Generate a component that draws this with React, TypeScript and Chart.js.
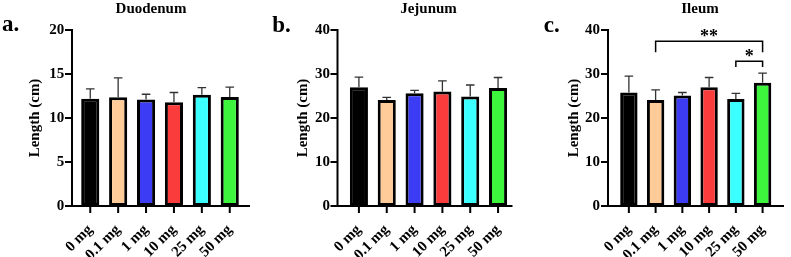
import React, { useEffect, useRef } from "react";
import { Chart, registerables } from "chart.js";

Chart.register(...registerables);

// ---------- data ----------
const doses = ["0 mg", "0.1 mg", "1 mg", "10 mg", "25 mg", "50 mg"];
const barColors = ["#000000", "#FFCC99", "#3C3CF5", "#FA3C3C", "#3CFFFF", "#3CF53C"];

const duodenumMean = [12.2, 12.35, 12.1, 11.8, 12.65, 12.4];
const duodenumSD = [1.1, 2.2, 0.6, 1.1, 0.8, 1.1];

const jejunumMean = [27.0, 24.1, 25.6, 26.0, 24.9, 26.8];
const jejunumSD = [2.3, 0.6, 0.7, 2.45, 2.6, 2.4];

const ileumMean = [25.8, 24.1, 25.1, 27.0, 24.3, 28.0];
const ileumSD = [3.7, 2.3, 0.7, 2.2, 1.3, 2.2];

const duodenumAxis = { max: 20, step: 5 };
const jejunumAxis = { max: 40, step: 10 };
const ileumAxis = { max: 40, step: 10 };

// significance brackets: from index, to index, line value, drop value, label value
const ileumSig = [
  { from: 1, to: 5, line: 37.45, drop: 34.95, star: 39.35, text: "**" },
  { from: 4, to: 5, line: 32.9, drop: 31.6, star: 34.8, text: "*" },
];

const FONT = "'Liberation Serif', 'Times New Roman', serif";
Chart.defaults.font.family = FONT;

type PanelProps = {
  left: number;
  width: number;
  title: string;
  letter: string;
  means: number[];
  sds: number[];
  axis: { max: number; step: number };
  sig: typeof ileumSig;
  L: {
    catLeft: number;
    catRight: number;
    axisX: number;
    axisEnd: number;
    yTitlePad: number;
    tickPad: number;
    titleX: number;
    letterX: number;
    letterY: number;
  };
};

const TOP = 30;
const BOTTOM = 206;
const H = 257;

function Panel(p: PanelProps) {
  const ref = useRef<HTMLCanvasElement | null>(null);
  useEffect(() => {
    if (!ref.current) return;
    const L = p.L;
    const deco = {
      id: "deco",
      afterDatasetsDraw(chart: any) {
        const ctx = chart.ctx as CanvasRenderingContext2D;
        const ys = chart.scales.y;
        const meta = chart.getDatasetMeta(0);
        const ca = chart.chartArea;
        ctx.save();
        // error bars
        ctx.strokeStyle = "#333333";
        ctx.lineWidth = 1.3;
        p.means.forEach((m, i) => {
          const x = meta.data[i].x;
          const y0 = ys.getPixelForValue(m);
          const y1 = ys.getPixelForValue(m + p.sds[i]);
          ctx.beginPath();
          ctx.moveTo(x, y0);
          ctx.lineTo(x, y1);
          ctx.moveTo(x - 4.3, y1);
          ctx.lineTo(x + 4.3, y1);
          ctx.stroke();
        });
        // axes
        ctx.strokeStyle = "#000";
        ctx.lineWidth = 2;
        ctx.beginPath();
        ctx.moveTo(L.axisX, ca.top - 1);
        ctx.lineTo(L.axisX, ca.bottom + 1);
        ctx.moveTo(L.axisX - 1, ca.bottom);
        ctx.lineTo(L.axisEnd, ca.bottom);
        ys.ticks.forEach((t: any) => {
          const y = ys.getPixelForValue(t.value);
          ctx.moveTo(L.axisX - 7, y);
          ctx.lineTo(L.axisX, y);
        });
        meta.data.forEach((b: any) => {
          ctx.moveTo(b.x, ca.bottom);
          ctx.lineTo(b.x, ca.bottom + 7);
        });
        ctx.stroke();
        // significance
        ctx.lineWidth = 1.5;
        ctx.fillStyle = "#000";
        p.sig.forEach((s) => {
          const xa = meta.data[s.from].x;
          const xb = meta.data[s.to].x;
          const yl = ys.getPixelForValue(s.line);
          const yd = ys.getPixelForValue(s.drop);
          ctx.beginPath();
          ctx.moveTo(xa, yd);
          ctx.lineTo(xa, yl);
          ctx.lineTo(xb, yl);
          ctx.lineTo(xb, yd);
          ctx.stroke();
          ctx.font = `bold 18px ${FONT}`;
          ctx.textAlign = "center";
          ctx.textBaseline = "alphabetic";
          const mt = ctx.measureText(s.text);
          const yc = ys.getPixelForValue(s.star);
          const base = yc + (mt.actualBoundingBoxAscent - mt.actualBoundingBoxDescent) / 2;
          ctx.fillText(s.text, (xa + xb) / 2, base);
        });
        // title and panel letter
        ctx.textAlign = "center";
        ctx.textBaseline = "alphabetic";
        ctx.font = `bold 15px ${FONT}`;
        ctx.fillText(p.title, L.titleX, 12.5);
        ctx.textAlign = "left";
        ctx.font = `bold 23px ${FONT}`;
        ctx.fillText(p.letter, L.letterX, L.letterY);
        ctx.restore();
      },
    };
    const chart = new Chart(ref.current, {
      type: "bar",
      data: {
        labels: doses,
        datasets: [
          {
            data: p.means,
            backgroundColor: barColors,
            borderColor: "#000",
            borderWidth: 3,
            borderSkipped: false,
            barPercentage: 0.65,
            categoryPercentage: 1,
          },
        ],
      },
      options: {
        responsive: false,
        animation: false,
        devicePixelRatio: 1,
        layout: {
          padding: { left: 0, top: TOP, right: p.width - L.catRight, bottom: 0 },
        },
        plugins: {
          legend: { display: false },
          title: { display: false },
          tooltip: { enabled: false },
        },
        scales: {
          x: {
            offset: true,
            grid: { display: false, drawTicks: false },
            border: { display: false },
            ticks: {
              color: "#000",
              font: { family: FONT, size: 15, weight: "bold" },
              minRotation: 45,
              maxRotation: 45,
              autoSkip: false,
              padding: 15,
            },
            afterFit: (s: any) => {
              s.height = H - BOTTOM;
            },
          },
          y: {
            min: 0,
            max: p.axis.max,
            grid: { display: false, drawTicks: false },
            border: { display: false },
            ticks: {
              stepSize: p.axis.step,
              color: "#000",
              font: { family: FONT, size: 15, weight: "bold" },
              padding: L.tickPad,
            },
            title: {
              display: true,
              text: "Length (cm)",
              color: "#000",
              font: { family: FONT, size: 15, weight: "bold", lineHeight: 1.2 },
              padding: { top: L.yTitlePad, bottom: 0 },
            },
            afterFit: (s: any) => {
              s.width = L.catLeft;
            },
          },
        },
      },
      plugins: [deco],
    } as any);
    return () => chart.destroy();
  }, []);
  return (
    <div style={{ position: "absolute", left: p.left, top: 0, width: p.width, height: H }}>
      <canvas ref={ref} width={p.width} height={H} style={{ width: p.width, height: H, display: "block" }} />
    </div>
  );
}

export default function App() {
  return (
    <div style={{ position: "absolute", left: 0, top: 0, width: 791, height: H, background: "#fff" }}>
      <Panel
        left={0}
        width={264}
        title="Duodenum"
        letter="a."
        means={duodenumMean}
        sds={duodenumSD}
        axis={duodenumAxis}
        sig={[]}
        L={{ catLeft: 76.3, catRight: 243.7, axisX: 72, axisEnd: 250, yTitlePad: 26, tickPad: 12, titleX: 151, letterX: 2, letterY: 31 }}
      />
      <Panel
        left={264}
        width={263}
        title="Jejunum"
        letter="b."
        means={jejunumMean}
        sds={jejunumSD}
        axis={jejunumAxis}
        sig={[]}
        L={{ catLeft: 81, catRight: 248.4, axisX: 73.5, axisEnd: 248.5, yTitlePad: 30, tickPad: 15, titleX: 164.5, letterX: 8.3, letterY: 31.7 }}
      />
      <Panel
        left={527}
        width={264}
        title="Ileum"
        letter="c."
        means={ileumMean}
        sds={ileumSD}
        axis={ileumAxis}
        sig={ileumSig}
        L={{ catLeft: 88.5, catRight: 255.9, axisX: 81, axisEnd: 257, yTitlePad: 37.7, tickPad: 15.5, titleX: 173, letterX: 16.7, letterY: 31.7 }}
      />
    </div>
  );
}
